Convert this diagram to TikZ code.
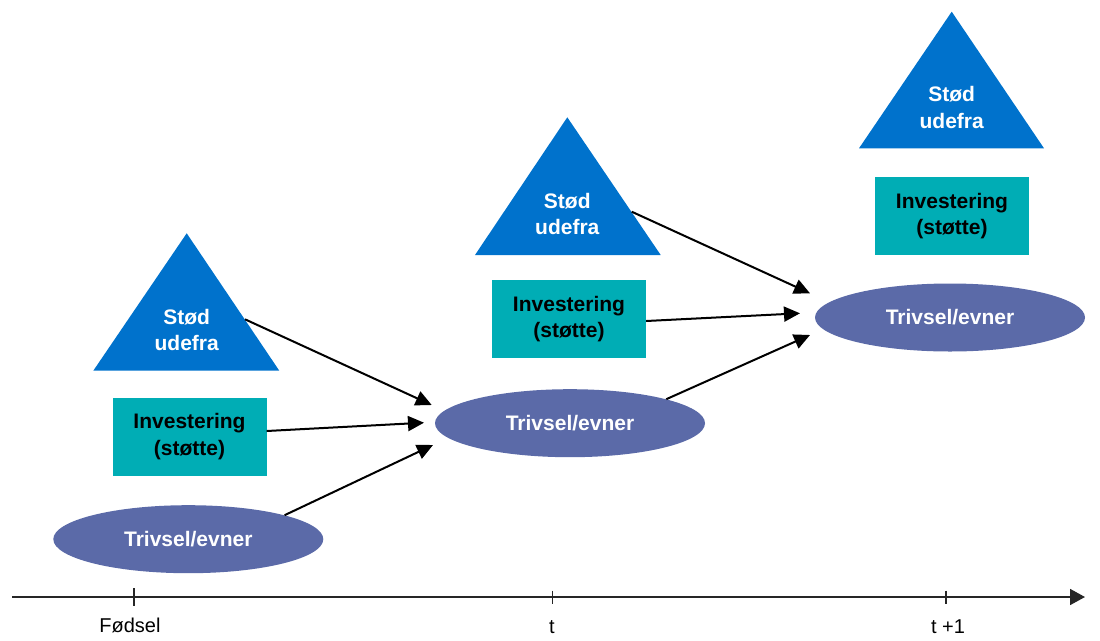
\documentclass[tikz,border=0pt]{standalone}
\usepackage{fontspec}
\setmainfont{Liberation Sans}
\usetikzlibrary{shapes.geometric,arrows.meta}
\definecolor{stodblue}{RGB}{0,114,204}
\definecolor{investteal}{RGB}{0,173,181}
\definecolor{trivsel}{RGB}{91,106,168}
\tikzset{
  stodtri/.style={fill=stodblue},
  stodtext/.style={text=white,font=\fontsize{21}{26.5}\selectfont\bfseries,align=center,inner sep=0pt},
  investbox/.style={fill=investteal,minimum width=154pt,minimum height=78pt,inner sep=0pt,
    font=\fontsize{21}{26.5}\selectfont\bfseries,align=center,text=black},
  trivnode/.style={ellipse,fill=trivsel,minimum width=270pt,minimum height=68pt,inner sep=0pt,
    font=\fontsize{21}{26.5}\selectfont\bfseries,text=white},
  conn/.style={line width=2pt,-{Triangle[length=16pt,width=15pt]}},
  axisline/.style={line width=1.8pt,draw=black!85,-{Triangle[length=15pt,width=16pt]}},
  tickmark/.style={line width=1.5pt,draw=black!85},
  ticklabel/.style={font=\fontsize{20}{24}\selectfont,anchor=base,inner sep=0pt}
}
\begin{document}
\begin{tikzpicture}[x=1pt,y=-1pt]
\useasboundingbox (0,0) rectangle (1100,640);

% triangles
\fill[stodtri] (186.7,233.3) -- (93.3,370.7) -- (279.3,370.7) -- cycle;
\fill[stodtri] (567.3,117.3) -- (475,255) -- (660.7,255) -- cycle;
\fill[stodtri] (951.7,11.7) -- (859,148.3) -- (1044,148.3) -- cycle;
\node[stodtext] (s1) at (186.7,330) {Stød\\udefra};
\node[stodtext] (s2) at (567.3,214) {Stød\\udefra};
\node[stodtext] (s3) at (951.7,107.5) {Stød\\udefra};
\coordinate (s1e) at (245,319.3);
\coordinate (s2e) at (631.7,211.7);

% investment boxes
\node[investbox] (i1) at (189.5,436.5) {Investering\\(støtte)};
\node[investbox] (i2) at (569,319.2) {Investering\\(støtte)};
\node[investbox] (i3) at (952,216.2) {Investering\\(støtte)};

% ellipses
\node[trivnode] (e1) at (188.3,539.2) {Trivsel/evner};
\node[trivnode] (e2) at (570,423.2) {Trivsel/evner};
\node[trivnode] (e3) at (950,317.5) {Trivsel/evner};

% arrow targets
\coordinate (t2a) at (431.7,405);
\coordinate (t2b) at (424,422.7);
\coordinate (t2c) at (433,445);
\coordinate (t3a) at (810,293.3);
\coordinate (t3b) at (800,313.3);
\coordinate (t3c) at (810,335);

\draw[conn] (s1e) -- (t2a);
\draw[conn] ([yshift=5.5pt]i1.east) -- (t2b);
\draw[conn] (e1.14) -- (t2c);
\draw[conn] (s2e) -- (t3a);
\draw[conn] ([yshift=-1.8pt]i2.east) -- (t3b);
\draw[conn] (e2.14) -- (t3c);

% time axis
\coordinate (ax0) at (12,597);
\coordinate (ax1) at (1085,597);
\draw[axisline] (ax0) -- (ax1);
\coordinate (k1) at (134,597);
\coordinate (k2) at (552.7,597);
\coordinate (k3) at (946,597);
\draw[tickmark] ([yshift=9pt]k1) -- ([yshift=-9pt]k1);
\draw[tickmark] ([yshift=6.5pt]k2) -- ([yshift=-6.5pt]k2);
\draw[tickmark] ([yshift=6.5pt]k3) -- ([yshift=-6.5pt]k3);
\node[ticklabel] (l1) at (130,632) {Fødsel};
\node[ticklabel] (l2) at (552,633) {t};
\node[ticklabel] (l3) at (948,633) {t +1};
\end{tikzpicture}
\end{document}
